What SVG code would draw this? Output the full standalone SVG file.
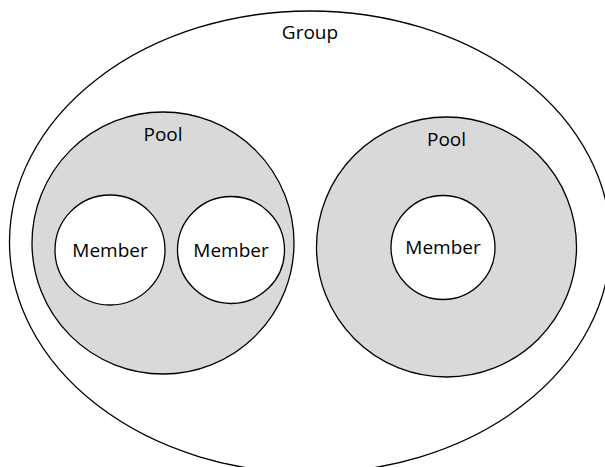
<svg xmlns="http://www.w3.org/2000/svg" width="605" height="467" viewBox="0 0 605 467">
<style>
.g{fill:#fff;stroke:#000;stroke-width:1.3}
.p{fill:#d9d9d9;stroke:#000;stroke-width:1.3}
.m{fill:#fff;stroke:#000;stroke-width:1.3}
text{font-family:"Open Sans","Noto Sans","Liberation Sans",sans-serif;font-size:19px;fill:#000;text-anchor:middle}
</style>
<rect width="605" height="467" fill="#fff"/>
<g id="group">
<ellipse class="g" cx="310" cy="242" rx="300.5" ry="231"/>
<text x="310" y="38.5">Group</text>
</g>
<g id="pool1">
<circle class="p" cx="163" cy="243" r="131"/>
<text x="163" y="140.5">Pool</text>
</g>
<g id="member1">
<circle class="m" cx="110" cy="250" r="55"/>
<text x="110" y="257">Member</text>
</g>
<g id="member2">
<circle class="m" cx="231" cy="250" r="53.5"/>
<text x="231" y="257">Member</text>
</g>
<g id="pool2">
<circle class="p" cx="446.5" cy="247" r="130"/>
<text x="446.5" y="145.5">Pool</text>
</g>
<g id="member3">
<circle class="m" cx="443" cy="247.5" r="52"/>
<text x="443" y="254">Member</text>
</g>
<g id="connectors"></g>
</svg>
